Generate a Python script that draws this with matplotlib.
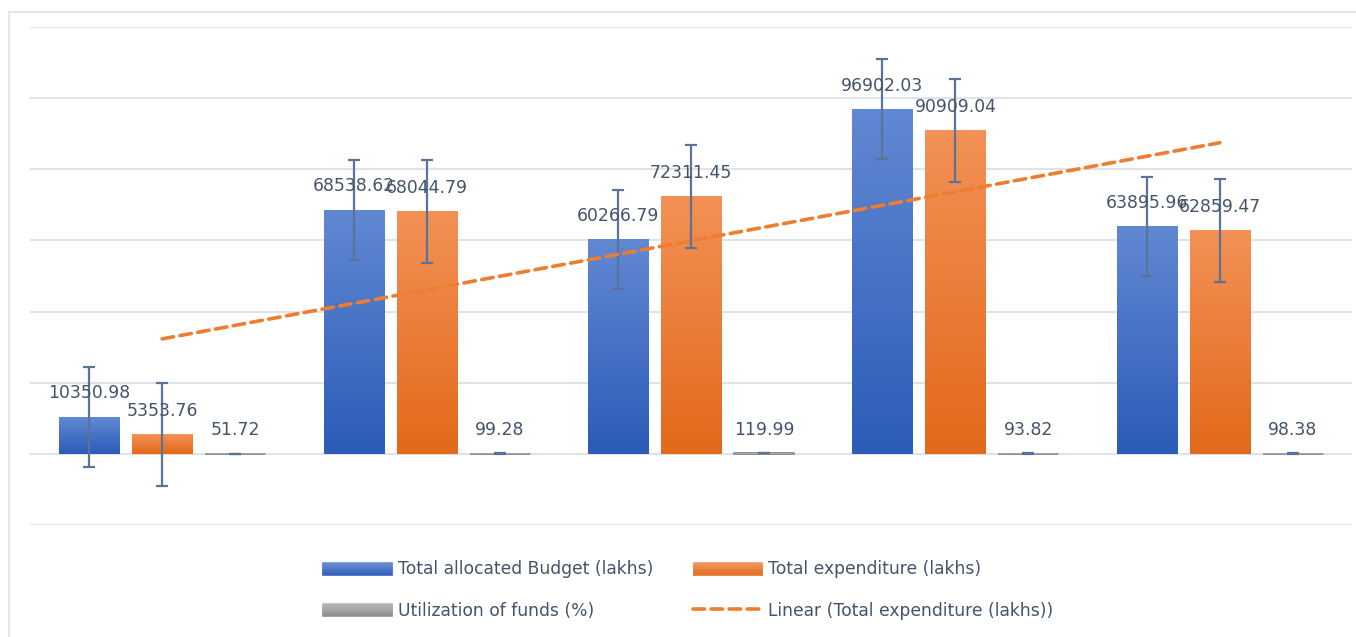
import numpy as np
import matplotlib
matplotlib.use("Agg")
import matplotlib.pyplot as plt
from matplotlib.colors import LinearSegmentedColormap
from matplotlib.legend_handler import HandlerBase
from matplotlib.patches import Rectangle
from matplotlib.lines import Line2D

# data
years = ["1", "2", "3", "4", "5"]
budget = [10350.98, 68538.62, 60266.79, 96902.03, 63895.96]
expenditure = [5353.76, 68044.79, 72311.45, 90909.04, 62859.47]
utilization = [51.72, 99.28, 119.99, 93.82, 98.38]

series_names = ["Total allocated Budget (lakhs)", "Total expenditure (lakhs)",
                "Utilization of funds (%)"]
grads = [("#6188d2", "#2c5bb8"), ("#f39156", "#e2691a"), ("#b4b4b4", "#8a8a8a")]
text_col = "#44546A"
err_col = "#5b7396"


def std_err(v):
    v = np.asarray(v, float)
    return v.std(ddof=1) / np.sqrt(len(v))


class GradHandler(HandlerBase):
    def __init__(self, top, bot):
        super().__init__()
        self.cmap = LinearSegmentedColormap.from_list("g", [top, bot])

    def create_artists(self, legend, orig_handle, xdescent, ydescent,
                       width, height, fontsize, trans):
        n = 14
        arts = []
        for i in range(n):
            c = self.cmap(i / (n - 1))
            arts.append(Rectangle((-xdescent, -ydescent + height * (1 - (i + 1) / n)),
                                  width, height / n, facecolor=c, edgecolor=c,
                                  lw=0.4, transform=trans))
        return arts


fig = plt.figure(figsize=(13.56, 6.37), dpi=100)
ax = fig.add_axes([30 / 1356, 112 / 637, 1322 / 1356, 498 / 637])

x = np.arange(len(years))
w = 0.227
offs = [-0.276, 0, 0.276]
allvals = [budget, expenditure, utilization]

for k, vals in enumerate(allvals):
    top, bot = grads[k]
    cmap = LinearSegmentedColormap.from_list("g%d" % k, [top, bot])
    xs = x + offs[k]
    bars = ax.bar(xs, vals, w, color="none", edgecolor=bot if k == 2 else "none",
                  lw=1.3 if k == 2 else 0, zorder=2)
    for xi, v in zip(xs, vals):
        ax.imshow(np.linspace(0, 1, 100).reshape(-1, 1), cmap=cmap, aspect="auto",
                  extent=(xi - w / 2, xi + w / 2, 0, v), origin="upper", zorder=2)
    se = std_err(vals)
    ax.errorbar(xs, vals, yerr=se, fmt="none", ecolor=err_col, elinewidth=1.6,
                capsize=4, capthick=1.6, zorder=3)
    for xi, v in zip(xs, vals):
        ax.annotate(f"{v:.2f}", (xi, v), xytext=(0, 10.5), textcoords="offset points",
                    ha="center", va="bottom", fontsize=12.4, color=text_col, zorder=5)

# linear trendline on expenditure
p = np.polyfit(x + 1, expenditure, 1)
trend_x = x + offs[1]
ax.plot(trend_x, np.polyval(p, x + 1), color="#ed7d31", lw=2.6, ls=(0, (3.2, 1.8)),
        dash_capstyle="round", zorder=4)

ax.set_xlim(-0.5, 4.5)
ax.set_ylim(-20000, 120000)
ax.set_yticks(np.arange(-20000, 120001, 20000))
ax.set_xticks([])
ax.tick_params(left=False, labelleft=False)
ax.grid(axis="y", color="#dce0e6", lw=1.3)
ax.set_axisbelow(True)
for s in ax.spines.values():
    s.set_visible(False)

# chart border
fig.add_artist(Line2D([9 / 1356, 9 / 1356], [0, 1 - 12 / 637], color="#dde1e6", lw=1.2))
fig.add_artist(Line2D([9 / 1356, 1], [1 - 12 / 637, 1 - 12 / 637], color="#dde1e6", lw=1.2))

h_b = Rectangle((0, 0), 1, 1)
h_e = Rectangle((0, 0), 1, 1)
h_u = Rectangle((0, 0), 1, 1)
h_t = Line2D([], [], color="#ed7d31", lw=2.6, ls=(0, (3.2, 1.8)), dash_capstyle="round")
leg = fig.legend([h_b, h_u, h_e, h_t],
                 [series_names[0], series_names[2], series_names[1],
                  "Linear (Total expenditure (lakhs))"],
                 handler_map={h_b: GradHandler(*grads[0]), h_e: GradHandler(*grads[1]),
                              h_u: GradHandler(*grads[2])},
                 ncol=2, loc="center", bbox_to_anchor=(688 / 1356, 47 / 637), frameon=False,
                 fontsize=12.3, handlelength=4.05, handleheight=0.82, handletextpad=0.35,
                 labelspacing=1.35, columnspacing=2.35, labelcolor=text_col)

fig.savefig("out.png", dpi=100)
